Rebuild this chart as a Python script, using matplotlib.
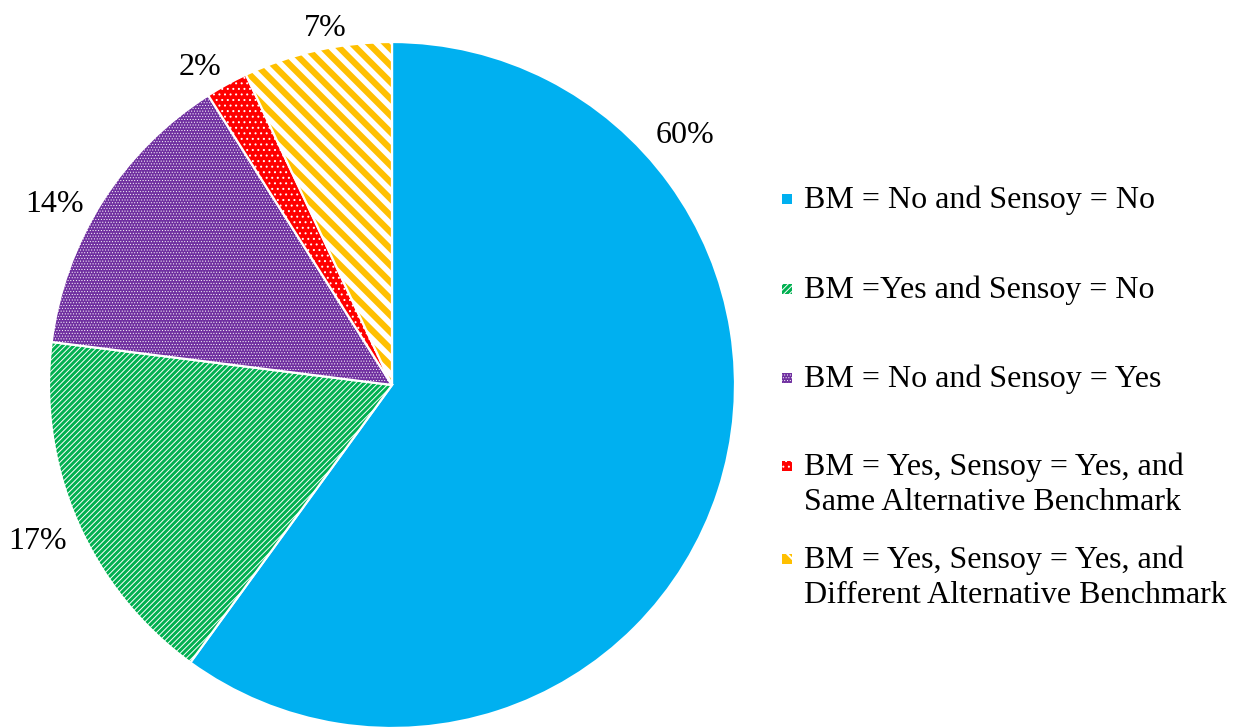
import matplotlib
matplotlib.use("Agg")
import matplotlib.pyplot as plt
from matplotlib.patches import Rectangle

plt.rcParams['font.family'] = ['Liberation Serif', 'DejaVu Serif']

# Data
categories = [
    "BM = No and Sensoy = No",
    "BM =Yes and Sensoy = No",
    "BM = No and Sensoy = Yes",
    "BM = Yes, Sensoy = Yes, and\nSame Alternative Benchmark",
    "BM = Yes, Sensoy = Yes, and\nDifferent Alternative Benchmark",
]
shares = [60, 17, 14, 2, 7]
pct_labels = ["60%", "17%", "14%", "2%", "7%"]

# Styling per slice
colors = ["#00B0F0", "#00B050", "#7030A0", "#FF0000", "#FFC000"]
hatches = [None, "//////", "......", "...", "\\\\"]
hatch_lw = [1.0, 0.7, 0.4, 0.7, 4.0]
# label offsets from the pie centre, in radius units
label_xy = [(0.854, 0.726), (-1.032, -0.455), (-0.983, 0.527),
            (-0.560, 0.927), (-0.195, 1.038)]

W, H = 1233, 727
fig = plt.figure(figsize=(W / 100, H / 100), dpi=100)

cx, cy, R = 392, 385, 343
ax = fig.add_axes([(cx - R) / W, (H - cy - R) / H, 2 * R / W, 2 * R / H])

wedges, _ = ax.pie(shares, colors=colors, startangle=90, counterclock=False,
                   radius=1, wedgeprops=dict(edgecolor="white", linewidth=1.6))
for w, h, lw in zip(wedges, hatches, hatch_lw):
    if h:
        w.set_hatch(h)
        try:
            w.set_hatch_linewidth(lw)
        except AttributeError:
            pass
ax.set_xlim(-1, 1)
ax.set_ylim(-1, 1)
ax.set_aspect("equal")
ax.axis("off")

for txt, (x, y) in zip(pct_labels, label_xy):
    ax.text(x, y, txt, fontsize=23, ha="center", va="center", clip_on=False)

# Legend drawn by hand
first_baselines = [208, 298, 387, 475, 568]
line_step = 35
mx, msize = 787, 10
tx = 804
for lab, c, h, lw, yb in zip(categories, colors, hatches, hatch_lw, first_baselines):
    ymid = yb - 9
    r = Rectangle(((mx - msize / 2) / W, (H - ymid - msize / 2) / H),
                  msize / W, msize / H, transform=fig.transFigure,
                  facecolor=c, edgecolor="white", linewidth=0.0, hatch=h)
    if h:
        try:
            r.set_hatch_linewidth(min(lw, 1.5))
        except AttributeError:
            pass
    fig.patches.append(r)
    for i, line in enumerate(lab.split("\n")):
        fig.text(tx / W, (H - yb - i * line_step) / H, line, fontsize=23,
                 ha="left", va="baseline")

fig.savefig("out.png", dpi=100)
